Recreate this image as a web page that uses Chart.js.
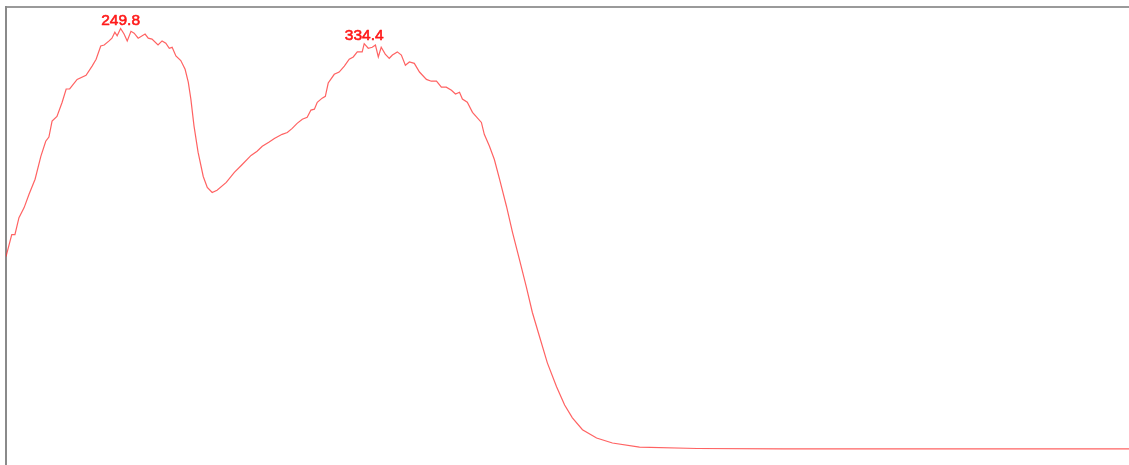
<!DOCTYPE html>
<html>
<head>
<meta charset="utf-8">
<title>UV absorption spectrum</title>
<script src="https://cdn.jsdelivr.net/npm/chart.js@4/dist/chart.umd.min.js"></script>
<style>
  html, body { margin: 0; padding: 0; background: #ffffff; }
  #wrap { position: relative; width: 1129px; height: 465px; }
</style>
</head>
<body>
<div id="wrap"><canvas id="spectrum"></canvas></div>
<script>
// Wavelength (nm) of each sample
const wavelength = [
  210.0, 212.0, 213.1, 214.5, 216.3, 218.0, 220.1, 222.1, 223.8, 224.9,
  226.0, 227.7, 229.5, 230.9, 232.1, 234.7, 237.8, 239.9, 241.3, 242.9,
  244.1, 245.8, 246.8, 247.8, 248.6, 249.8, 251.0, 252.1, 253.4, 254.5,
  255.9, 258.3, 259.4, 260.7, 262.8, 264.2, 265.5, 266.7, 267.7, 269.0,
  270.7, 272.2, 273.3, 274.2, 275.3, 276.7, 278.5, 279.9, 281.6, 283.3,
  286.5, 289.3, 291.7, 295.1, 297.2, 299.0, 301.4, 303.2, 305.9, 307.7,
  309.4, 311.1, 312.9, 314.6, 315.9, 317.1, 318.1, 319.8, 320.9, 321.9,
  324.0, 325.7, 327.5, 329.2, 330.6, 332.0, 333.7, 334.4, 335.8, 337.2,
  338.3, 339.3, 340.3, 341.7, 343.1, 344.2, 345.9, 347.3, 348.7, 350.1,
  351.8, 353.6, 356.0, 357.7, 359.5, 361.2, 362.9, 364.7, 366.1, 367.5,
  368.5, 370.2, 372.0, 375.1, 376.1, 377.9, 379.6, 381.4, 383.8, 385.9,
  388.3, 390.7, 392.8, 395.3, 398.0, 401.2, 404.0, 406.7, 410.2, 415.1,
  420.6, 430.0, 450.0, 480.0, 520.0, 560.0, 600.0
];

// Absorbance at each wavelength
const absorbance = [
  0.455, 0.503, 0.503, 0.540, 0.562, 0.591, 0.624, 0.674, 0.707, 0.716,
  0.751, 0.761, 0.792, 0.821, 0.821, 0.842, 0.851, 0.871, 0.886, 0.915,
  0.917, 0.926, 0.932, 0.945, 0.937, 0.953, 0.941, 0.926, 0.947, 0.943,
  0.932, 0.941, 0.932, 0.930, 0.917, 0.926, 0.921, 0.910, 0.912, 0.893,
  0.883, 0.864, 0.836, 0.799, 0.740, 0.683, 0.630, 0.606, 0.595, 0.600,
  0.617, 0.639, 0.654, 0.676, 0.685, 0.696, 0.705, 0.713, 0.722, 0.726,
  0.735, 0.746, 0.755, 0.759, 0.775, 0.777, 0.792, 0.801, 0.805, 0.834,
  0.853, 0.858, 0.871, 0.886, 0.891, 0.902, 0.902, 0.920, 0.910, 0.912,
  0.917, 0.891, 0.912, 0.897, 0.888, 0.895, 0.902, 0.895, 0.873, 0.880,
  0.877, 0.858, 0.842, 0.838, 0.838, 0.825, 0.825, 0.818, 0.810, 0.814,
  0.799, 0.792, 0.770, 0.748, 0.722, 0.696, 0.667, 0.624, 0.565, 0.508,
  0.449, 0.389, 0.333, 0.280, 0.223, 0.171, 0.131, 0.103, 0.077, 0.059,
  0.048, 0.039, 0.036, 0.035, 0.035, 0.035, 0.035
];

// Absorption maxima (nm) that get a value label
const peakWavelengths = [249.8, 334.4];

// Axis ranges
const wavelengthRange = [210, 600];
const absorbanceRange = [0, 1];

const lineColor = 'rgba(255, 45, 45, 0.75)';
const labelColor = '#ff1a1a';

const points = wavelength.map((w, i) => ({ x: w, y: absorbance[i] }));

// Writes the wavelength above each marked maximum
const peakLabelPlugin = {
  id: 'peakLabels',
  afterDatasetsDraw(chart) {
    const meta = chart.getDatasetMeta(0);
    const { ctx } = chart;
    ctx.save();
    ctx.fillStyle = labelColor;
    ctx.strokeStyle = labelColor;
    ctx.lineWidth = 0.6;
    ctx.lineJoin = 'round';
    ctx.font = '15.5px "Liberation Sans", Arial, sans-serif';
    ctx.textAlign = 'center';
    ctx.textBaseline = 'alphabetic';
    peakWavelengths.forEach(p => {
      const idx = wavelength.indexOf(p);
      if (idx < 0) return;
      const el = meta.data[idx];
      const text = p.toFixed(1);
      ctx.fillText(text, el.x, el.y - 3.5);
      ctx.strokeText(text, el.x, el.y - 3.5);
    });
    ctx.restore();
  }
};

const hiddenAxisBits = {
  ticks: { display: false },
  grid: { display: false, drawTicks: false },
  title: { display: false }
};

new Chart(document.getElementById('spectrum'), {
  type: 'line',
  data: {
    datasets: [{
      data: points,
      borderColor: lineColor,
      borderWidth: 1.2,
      pointRadius: 0,
      tension: 0,
      fill: false
    }]
  },
  options: {
    responsive: true,
    maintainAspectRatio: false,
    animation: false,
    layout: { padding: { left: 6, top: 7, right: 0, bottom: 0 } },
    plugins: {
      legend: { display: false },
      tooltip: { enabled: false }
    },
    scales: {
      x: {
        type: 'linear',
        position: 'bottom',
        min: wavelengthRange[0],
        max: wavelengthRange[1],
        display: false
      },
      xTop: {
        type: 'linear',
        position: 'top',
        min: wavelengthRange[0],
        max: wavelengthRange[1],
        ...hiddenAxisBits,
        border: { display: true, color: '#9a9a9a', width: 2 }
      },
      y: {
        type: 'linear',
        position: 'left',
        min: absorbanceRange[0],
        max: absorbanceRange[1],
        ...hiddenAxisBits,
        border: { display: true, color: '#8a8a8a', width: 2 }
      }
    }
  },
  plugins: [peakLabelPlugin]
});
</script>
</body>
</html>
